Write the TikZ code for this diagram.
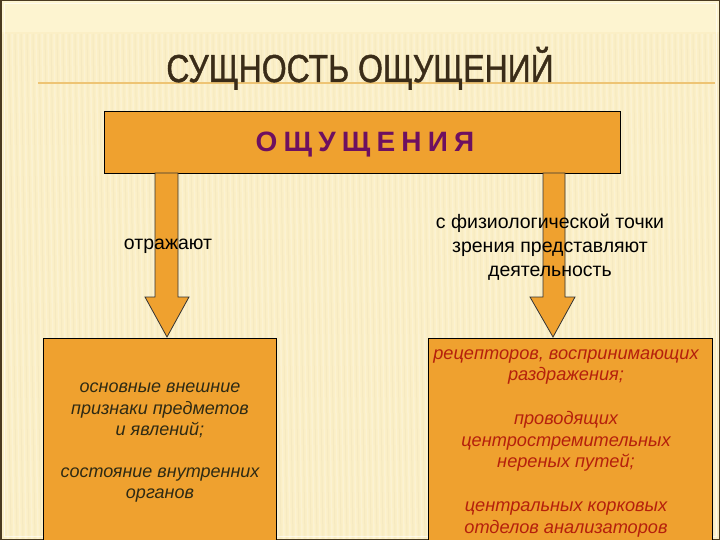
\documentclass[tikz,border=0pt]{standalone}
\usepackage{fontspec}
\setmainfont{Liberation Sans}
\usetikzlibrary{calc}
\definecolor{bgc}{HTML}{FBEFC6}
\definecolor{bgtop}{HTML}{FDF4D0}
\definecolor{boxc}{HTML}{EFA12F}
\definecolor{titlec}{HTML}{3A2C18}
\definecolor{purp}{HTML}{6E1060}
\definecolor{redt}{HTML}{B5200C}
\definecolor{darkt}{HTML}{2E2A14}
\definecolor{framec}{HTML}{4A3A20}
\definecolor{linec}{HTML}{EEC474}
\tikzset{
  boxstyle/.style={draw=black, line width=0.9pt, fill=boxc},
  arrowstyle/.style={draw=black!80, line width=0.8pt, fill=boxc},
  labeltext/.style={text=black, align=center, font=\fontsize{19.5}{24}\selectfont},
}
\begin{document}
\begin{tikzpicture}[x=1pt,y=-1pt]
\useasboundingbox (0,0) rectangle (720,540);
\clip (0,0) rectangle (720,540);
% background
\fill[bgc] (0,0) rectangle (720,540);
\fill[bgtop] (0,0) rectangle (720,32);
\foreach \i in {0,6,...,720} {
  \draw[white, opacity=0.22, line width=1.5pt] (\i,34) -- (\i+8,540);
  \draw[black!30!bgc, opacity=0.08, line width=1pt] (\i+3,34) -- (\i+11,540);
}
% frame
\draw[framec, line width=1.5pt] (0.75,0.75) rectangle (719.25,539.25);
\draw[white, opacity=0.6, line width=1pt] (4,4) rectangle (716,536);
% title line
\draw[linec, line width=1.2pt] (38,83) -- (715,83);
% title
\node[anchor=base, xscale=0.82, text=titlec, inner sep=0pt] (title) at (360,82)
  {\fontsize{39}{39}\addfontfeature{FakeBold=1.2}\selectfont СУЩНОСТЬ ОЩУЩЕНИЙ};
% top box
\node[boxstyle, minimum width=516pt, minimum height=62pt, inner sep=0pt] (top) at (362,142) {};
\node[text=purp, font=\fontsize{28}{28}\bfseries\addfontfeature{LetterSpace=22}\selectfont, inner sep=0pt] (toptext) at (365,145) {ОЩУЩЕНИЯ};
% bottom boxes
\node[boxstyle, minimum width=233pt, minimum height=240pt, inner sep=0pt, anchor=north west] (leftbox) at (43,338) {};
\node[boxstyle, minimum width=284pt, minimum height=240pt, inner sep=0pt, anchor=north west] (rightbox) at (428,338) {};
% arrows
\coordinate (la) at (167,173);
\coordinate (lt) at (167,337);
\coordinate (ra) at (554,173);
\coordinate (rt) at (553,337);
\draw[arrowstyle] ($(la)+(-12,0)$) -- ($(la)+(11,0)$) -- ($(la)+(11,124)$) -- ($(la)+(22,124)$) -- (lt) -- ($(la)+(-22,124)$) -- ($(la)+(-12,124)$) -- cycle;
\draw[arrowstyle] ($(ra)+(-11,0)$) -- ($(ra)+(11,0)$) -- ($(ra)+(11,124)$) -- ($(ra)+(21,124)$) -- (rt) -- ($(ra)+(-24,124)$) -- ($(ra)+(-11,124)$) -- cycle;
% labels
\node[labeltext] (lab1) at (168,246) {отражают};
\node[labeltext] (lab2) at (550,247) {с физиологической точки\\зрения представляют\\деятельность};
% box texts
\node[text=darkt, align=center, font=\fontsize{18}{21.2}\itshape\selectfont] (lt1) at (160,443)
  {основные внешние\\признаки предметов\\и явлений;\\\mbox{}\\состояние внутренних\\органов};
\node[text=redt, align=center, font=\fontsize{18.2}{21.75}\itshape\selectfont] (rt1) at (566,443)
  {рецепторов, воспринимающих\\раздражения;\\\mbox{}\\проводящих\\центростремительных\\нереных путей;\\\mbox{}\\центральных корковых\\отделов анализаторов};
\end{tikzpicture}
\end{document}
